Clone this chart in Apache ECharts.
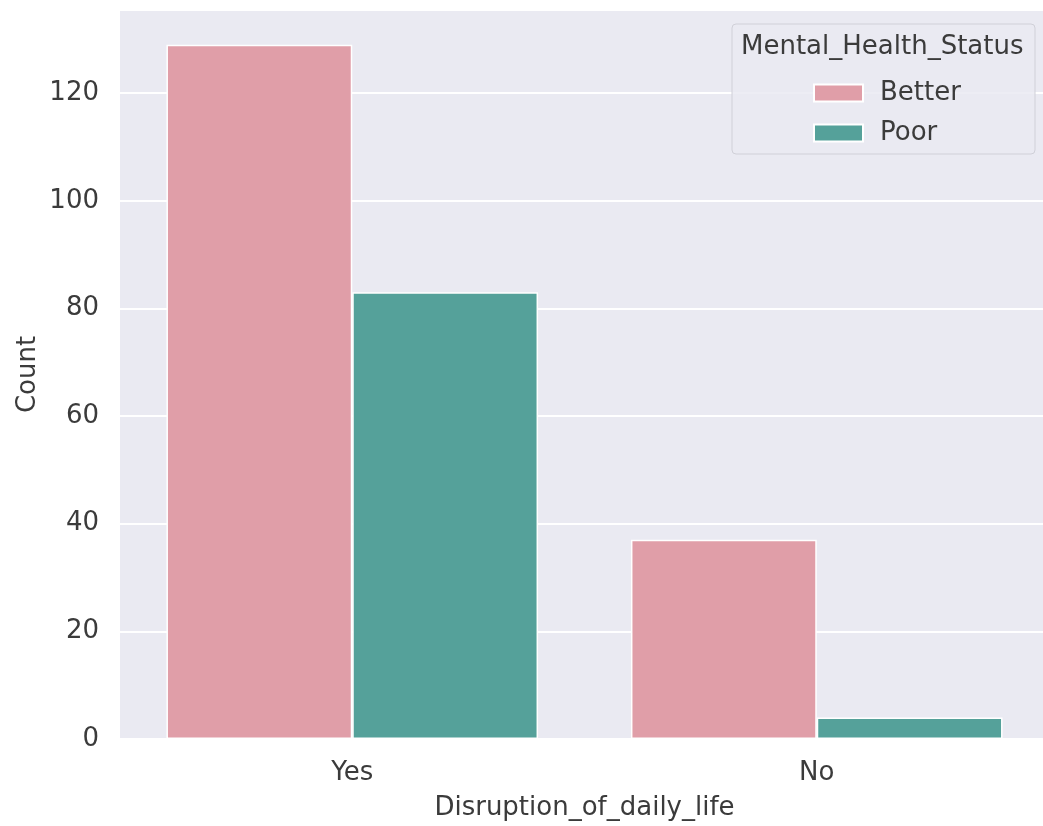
<!DOCTYPE html>
<html><head><meta charset="utf-8">
<script src="https://cdn.jsdelivr.net/npm/echarts@6/dist/echarts.min.js"></script>
<style>html,body{margin:0;padding:0;background:#fff;overflow:hidden}#c{width:1050px;height:826px}</style>
</head><body><div id="c"></div>
<script>
const categories = ["Yes", "No"];
const betterCounts = [129, 37];
const poorCounts = [83, 4];
const seriesNames = ["Better", "Poor"];
const legendTitle = "Mental_Health_Status";
const xName = "Disruption_of_daily_life";
const yName = "Count";

const font = "DejaVu Sans";
const fs = 26;
const txt = '#3b3b3b';
const chart = echarts.init(document.getElementById('c'), null, {renderer: 'canvas'});
chart.setOption({
  animation: false,
  backgroundColor: '#ffffff',
  grid: {left: 120, right: 1, top: 10, bottom: 87, show: true, backgroundColor: '#EAEAF2', borderWidth: 0},
  xAxis: {
    type: 'category', data: categories,
    name: xName, nameLocation: 'middle', nameGap: 56,
    nameTextStyle: {fontFamily: font, fontSize: fs, color: txt},
    axisLine: {show: false}, axisTick: {show: false},
    axisLabel: {fontFamily: font, fontSize: fs, color: txt, margin: 21},
    splitLine: {show: false}
  },
  yAxis: {
    type: 'value', min: 0, max: 135.45, interval: 20,
    name: yName, nameLocation: 'middle', nameGap: 79, nameMoveOverlap: false,
    nameTextStyle: {fontFamily: font, fontSize: fs, color: txt},
    axisLine: {show: false}, axisTick: {show: false},
    axisLabel: {fontFamily: font, fontSize: fs, color: txt, margin: 21, showMaxLabel: false},
    splitLine: {show: true, lineStyle: {color: '#ffffff', width: 2}}
  },
  legend: {
    orient: 'vertical', left: 808, top: 75, itemWidth: 49, itemHeight: 17, itemGap: 14,
    icon: 'rect', data: seriesNames, z: 10,
    textStyle: {fontFamily: font, fontSize: fs, color: txt, lineHeight: 26, padding: [0, 0, 0, 12]}
  },
  graphic: [
    {type: 'rect', z: 5, shape: {x: 732, y: 24, width: 303, height: 130, r: 4},
     style: {fill: 'rgba(234,234,242,0.85)', stroke: '#d0d0d8', lineWidth: 1}},
    {type: 'text', z: 6, left: 741, top: 34,
     style: {text: legendTitle, fontFamily: font, fontSize: fs, fill: txt}}
  ],
  series: [
    {name: seriesNames[0], type: 'bar', data: betterCounts, barGap: '0%', barCategoryGap: '20%',
     itemStyle: {color: '#E09EA8', borderColor: '#ffffff', borderWidth: 1.5}},
    {name: seriesNames[1], type: 'bar', data: poorCounts, barGap: '0%', barCategoryGap: '20%',
     itemStyle: {color: '#55A19A', borderColor: '#ffffff', borderWidth: 1.5}}
  ]
});
</script></body></html>
